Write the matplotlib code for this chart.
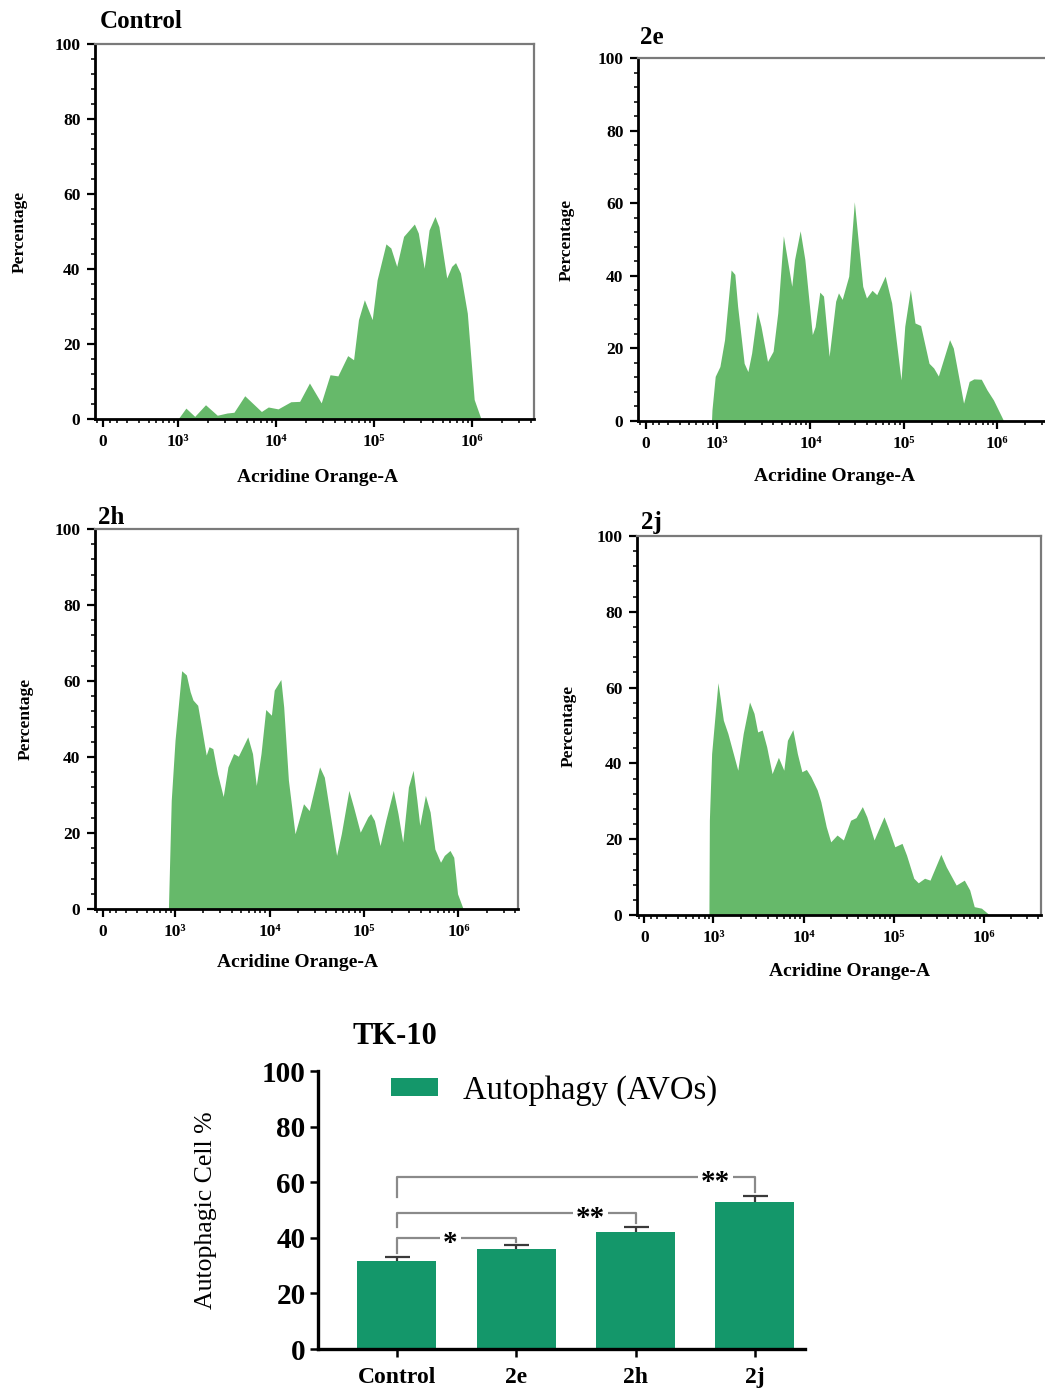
import matplotlib.pyplot as plt
import numpy as np

plt.rcParams['font.family'] = ['Liberation Serif', 'DejaVu Serif']
plt.rcParams['font.weight'] = 'bold'

# Acridine Orange-A histograms: log10 intensity vs percentage
ctrl_log = [3.00, 3.08, 3.17, 3.28, 3.40, 3.50, 3.57, 3.68, 3.85, 3.92, 4.02, 4.15, 4.24,
            4.34, 4.46, 4.55, 4.63, 4.73, 4.79, 4.84, 4.90, 4.98, 5.03, 5.12, 5.17, 5.23,
            5.30, 5.41, 5.45, 5.51, 5.56, 5.62, 5.66, 5.74, 5.79, 5.83, 5.88, 5.95, 6.02, 6.09]
ctrl_pct = [0.0, 2.9, 0.7, 3.8, 1.0, 1.6, 1.8, 6.2, 2.0, 3.2, 2.7, 4.6, 4.7,
            9.6, 4.3, 11.8, 11.5, 16.9, 15.8, 26.5, 31.8, 26.5, 37.1, 46.7, 45.6, 40.7,
            48.7, 52.0, 49.6, 40.2, 50.4, 54.0, 51.3, 37.6, 40.7, 41.7, 38.9, 28.2, 5.2, 0.0]

e2_log = [2.94, 2.945, 2.98, 3.03, 3.08, 3.15, 3.19, 3.22, 3.29, 3.33, 3.37, 3.43, 3.47,
          3.54, 3.60, 3.65, 3.71, 3.74, 3.80, 3.83, 3.89, 3.94, 4.02, 4.05, 4.10, 4.14,
          4.20, 4.27, 4.30, 4.34, 4.41, 4.47, 4.51, 4.56, 4.60, 4.66, 4.71, 4.80, 4.87,
          4.97, 5.01, 5.07, 5.12, 5.18, 5.27, 5.32, 5.37, 5.49, 5.53, 5.64, 5.70, 5.75,
          5.83, 5.89, 5.96, 6.07]
e2_pct = [0.0, 3.0, 12.3, 15.0, 22.4, 41.6, 40.4, 31.6, 15.9, 13.6, 18.7, 30.2, 26.1,
          16.4, 19.2, 29.8, 51.0, 46.4, 37.1, 44.5, 52.4, 44.5, 23.8, 26.0, 35.5, 34.4,
          17.8, 33.0, 35.3, 33.5, 39.9, 60.4, 50.0, 37.1, 33.9, 36.0, 34.8, 39.9, 32.5,
          11.3, 26.1, 36.2, 27.0, 26.3, 15.9, 14.6, 12.4, 22.4, 20.1, 4.9, 10.9, 11.6,
          11.5, 8.6, 5.8, 0.0]

h2_log = [2.93, 2.935, 2.96, 3.00, 3.07, 3.12, 3.16, 3.19, 3.24, 3.28, 3.33, 3.36, 3.40,
          3.45, 3.51, 3.56, 3.62, 3.67, 3.77, 3.82, 3.86, 3.91, 3.96, 4.02, 4.05, 4.12,
          4.15, 4.20, 4.27, 4.36, 4.42, 4.53, 4.58, 4.71, 4.76, 4.84, 4.89, 4.96, 5.04,
          5.07, 5.11, 5.17, 5.23, 5.31, 5.36, 5.41, 5.47, 5.52, 5.56, 5.59, 5.65, 5.70,
          5.75, 5.81, 5.85, 5.91, 5.95, 5.99, 6.05]
h2_pct = [0.0, 4.8, 28.6, 44.4, 62.7, 61.6, 57.2, 55.0, 53.6, 47.9, 40.5, 42.7, 42.2,
          35.6, 29.6, 37.4, 40.9, 40.2, 45.3, 40.9, 32.5, 40.9, 52.5, 51.0, 57.6, 60.4,
          53.2, 33.9, 19.8, 27.7, 25.9, 37.4, 34.7, 14.1, 19.8, 31.2, 26.8, 20.2, 24.2,
          25.1, 23.3, 16.7, 23.3, 31.2, 25.1, 17.6, 32.1, 36.5, 28.6, 22.0, 29.9, 25.5,
          15.8, 12.3, 14.1, 15.4, 13.6, 4.0, 0.0]

j2_log = [2.95, 2.955, 2.98, 3.05, 3.11, 3.16, 3.27, 3.33, 3.40, 3.45, 3.49, 3.54, 3.59,
          3.65, 3.72, 3.78, 3.82, 3.88, 3.93, 3.98, 4.03, 4.08, 4.15, 4.19, 4.25, 4.30,
          4.37, 4.44, 4.52, 4.58, 4.65, 4.70, 4.78, 4.89, 4.94, 5.01, 5.09, 5.14, 5.22,
          5.27, 5.34, 5.40, 5.52, 5.58, 5.69, 5.78, 5.84, 5.89, 5.97, 6.06]
j2_pct = [0.0, 25.0, 42.6, 61.3, 51.4, 47.9, 38.2, 47.9, 56.2, 53.2, 48.3, 48.8, 44.4,
          37.3, 41.6, 38.2, 46.1, 48.9, 42.6, 37.8, 38.4, 36.5, 33.0, 29.9, 23.3, 19.3,
          21.1, 19.8, 25.0, 25.7, 28.6, 25.9, 19.8, 25.9, 22.8, 18.0, 18.9, 15.8, 9.7,
          8.5, 9.7, 9.2, 16.0, 12.7, 7.9, 9.2, 6.6, 2.2, 1.8, 0.0]

# axis ticks of the cytometry x axis (log10 units, "0" sits on the linear part)
decade_pos = [2.235, 3, 4, 5, 6]
decade_labels = ['0', '10³', '10⁴', '10⁵', '10⁶']

# summary bar chart
groups = ['Control', '2e', '2h', '2j']
avo_mean = [31.5, 36.0, 42.0, 53.0]
avo_sem = [1.5, 1.5, 2.0, 2.0]
sig_pairs = [(0, 1), (0, 2), (0, 3)]
sig_labels = ['*', '**', '**']

hist_green = '#66b96a'
bar_green = '#14976a'

W, H = 1045, 1388
fig = plt.figure(figsize=(W / 100, H / 100), dpi=100)


def px_rect(l, t, r, b):
    return [l / W, 1 - b / H, (r - l) / W, (b - t) / H]


def flow_panel(box, title, title_xy, xs, ys, ylab_x, xlab_xy):
    ax = fig.add_axes(px_rect(*box))
    ax.fill_between(xs, ys, 0, color=hist_green, lw=0)
    ax.set_xlim(2.153, 6.63)
    ax.set_ylim(0, 100)

    minor = [np.log10(k * 10.0 ** j) for j in range(2, 7) for k in range(2, 10)]
    minor = [m for m in minor if 2.45 < m < 6.62]
    minor += [2.17, 2.31, 2.38]
    ax.set_xticks(decade_pos)
    ax.set_xticklabels(decade_labels)
    ax.set_xticks(minor, minor=True)
    ax.set_yticks(range(0, 101, 20))
    ax.set_yticks(range(0, 101, 4), minor=True)

    ax.tick_params(axis='both', which='major', direction='out', length=5.5, width=1.6,
                   labelsize=12.5, pad=5, color='black')
    ax.tick_params(axis='both', which='minor', direction='out', length=3, width=1.3,
                   color='#222222')
    for lab in ax.get_xticklabels() + ax.get_yticklabels():
        lab.set_fontweight('bold')

    for side in ('left', 'bottom'):
        ax.spines[side].set_linewidth(2)
        ax.spines[side].set_color('black')
    for side in ('top', 'right'):
        ax.spines[side].set_linewidth(1.6)
        ax.spines[side].set_color('#7a7a7a')

    fig.text(title_xy[0] / W, 1 - title_xy[1] / H, title, fontsize=18,
             fontweight='bold', ha='left', va='center')
    ax.text(ylab_x, 0.5, 'Percentage', transform=ax.transAxes, rotation=90,
            fontsize=12.5, fontweight='bold', ha='center', va='center')
    ax.text(xlab_xy[0], xlab_xy[1], 'Acridine Orange-A', transform=ax.transAxes,
            fontsize=14, fontweight='bold', ha='center', va='center')
    return ax


flow_panel((95, 44, 534, 419), 'Control', (100, 22), ctrl_log, ctrl_pct,
           -0.171, (0.508, -0.155))
flow_panel((638, 58, 1056, 421), '2e', (640, 38), e2_log, e2_pct,
           -0.170, (0.471, -0.154))
flow_panel((95, 529, 518, 909), '2h', (98, 517), h2_log, h2_pct,
           -0.165, (0.480, -0.142))
flow_panel((637, 536, 1041, 915), '2j', (641, 522), j2_log, j2_pct,
           -0.168, (0.527, -0.150))

# autophagic cell percentage
ax = fig.add_axes(px_rect(318, 1071, 805, 1349))
x = np.arange(len(groups))
ax.errorbar(x, avo_mean, yerr=avo_sem, fmt='none', ecolor='#3a3a3a',
            elinewidth=1.6, capsize=9, capthick=1.6, zorder=1)
ax.bar(x, avo_mean, width=0.66, color=bar_green, zorder=2,
       label='Autophagy (AVOs)')
ax.set_xlim(-0.66, 3.42)
ax.set_ylim(0, 100)
ax.set_yticks(range(0, 101, 20))
ax.set_xticks(x)
ax.set_xticklabels(groups)
ax.tick_params(axis='y', direction='out', length=6, width=1.8, labelsize=21, pad=3)
ax.tick_params(axis='x', direction='out', length=6, width=1.8, labelsize=17, pad=7)
for lab in ax.get_xticklabels() + ax.get_yticklabels():
    lab.set_fontweight('bold')
for side in ('top', 'right'):
    ax.spines[side].set_visible(False)
for side in ('left', 'bottom'):
    ax.spines[side].set_linewidth(2.4)
ax.yaxis.set_label_coords(-0.207, 0.5)
ax.set_ylabel('Autophagic Cell %', fontsize=18.5, fontweight='normal')

# significance brackets (kept beneath the bars so the star boxes never clip them)
bracket_levels = [40, 49, 62]
left_feet = [34.5, 44, 54.5]
right_feet = [38.5, 45.5, 56.5]
star_x = [0.45, 1.62, 2.67]
for (a, b), lev, lf, rf, sx, lab in zip(sig_pairs, bracket_levels, left_feet,
                                        right_feet, star_x, sig_labels):
    ax.plot([a, a, b, b], [lf, lev, lev, rf], color='#8a8a8a', lw=1.6, zorder=1.5)
    ax.text(sx, lev - 2.0, lab, fontsize=21, fontweight='bold', ha='center',
            va='center', zorder=1.8,
            bbox=dict(facecolor='white', edgecolor='none', pad=2.0))

ax.legend(loc='center left', bbox_to_anchor=(0.149, 0.93), frameon=False,
          prop={'size': 23.5, 'weight': 'normal'}, handlelength=1.44,
          handleheight=0.43, handletextpad=0.77, borderpad=0, borderaxespad=0)

fig.text(395 / W, 1 - 1036 / H, 'TK-10', fontsize=22, fontweight='bold',
         ha='center', va='center')

fig.savefig('out.png', dpi=100)
